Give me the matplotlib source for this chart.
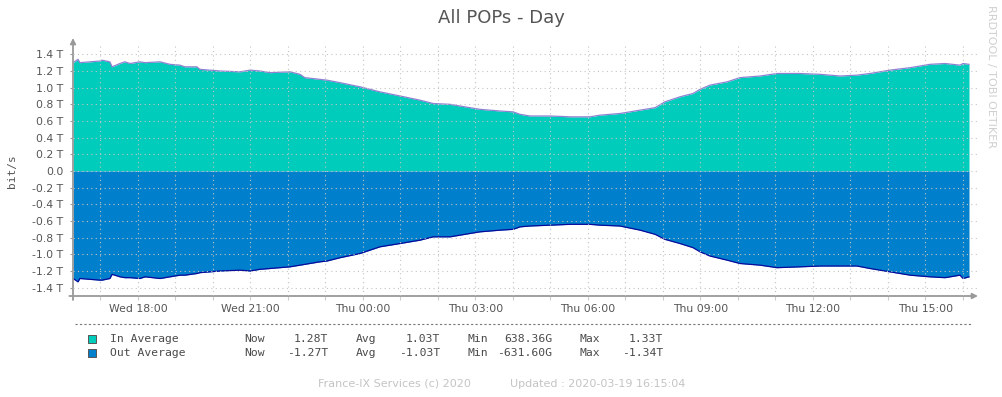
import matplotlib
matplotlib.use("Agg")
import matplotlib.pyplot as plt
from matplotlib.lines import Line2D
from matplotlib.patches import Rectangle

W, H = 1003, 397

# time in hours since Wed 00:00
hours = [16.27, 16.40, 16.45, 16.72, 16.99, 17.04, 17.25, 17.31, 17.52, 17.65,
         17.79, 18.05, 18.19, 18.59, 18.85, 19.12, 19.25, 19.57, 19.65, 19.92,
         20.19, 20.72, 20.99, 21.25, 21.52, 22.05, 22.32, 22.45, 22.85, 23.04,
         23.39, 23.92, 24.45, 24.99, 25.52, 25.87, 26.32, 26.85, 27.12, 27.65,
         28.00, 28.19, 28.45, 28.99, 29.52, 30.05, 30.32, 30.85, 31.39, 31.79,
         32.05, 32.45, 32.80, 32.99, 33.25, 33.71, 34.05, 34.59, 35.04, 35.65,
         36.19, 36.72, 37.17, 37.52, 38.05, 38.59, 39.12, 39.52, 39.92, 40.00,
         40.16]

# bit/s in T
in_avg = [1.30, 1.34, 1.30, 1.31, 1.32, 1.33, 1.31, 1.25, 1.29, 1.31,
          1.29, 1.31, 1.30, 1.31, 1.28, 1.27, 1.25, 1.25, 1.22, 1.21,
          1.20, 1.19, 1.21, 1.20, 1.18, 1.19, 1.16, 1.12, 1.10, 1.09,
          1.06, 1.01, 0.95, 0.90, 0.85, 0.81, 0.80, 0.76, 0.74, 0.72,
          0.71, 0.68, 0.66, 0.66, 0.65, 0.65, 0.67, 0.69, 0.73, 0.76,
          0.83, 0.89, 0.93, 0.98, 1.03, 1.07, 1.12, 1.14, 1.17, 1.17,
          1.16, 1.14, 1.15, 1.17, 1.21, 1.24, 1.28, 1.29, 1.27, 1.29,
          1.28]

out_avg = [-1.29, -1.33, -1.29, -1.30, -1.31, -1.31, -1.29, -1.24, -1.27, -1.28,
           -1.28, -1.29, -1.27, -1.29, -1.27, -1.25, -1.25, -1.23, -1.22, -1.21,
           -1.20, -1.19, -1.20, -1.18, -1.17, -1.15, -1.13, -1.12, -1.09, -1.08,
           -1.04, -0.99, -0.91, -0.87, -0.83, -0.79, -0.79, -0.75, -0.73, -0.71,
           -0.70, -0.67, -0.66, -0.65, -0.64, -0.64, -0.65, -0.66, -0.71, -0.76,
           -0.82, -0.87, -0.92, -0.97, -1.02, -1.07, -1.11, -1.13, -1.16, -1.15,
           -1.14, -1.14, -1.14, -1.17, -1.21, -1.25, -1.27, -1.28, -1.25, -1.29,
           -1.27]

yticks = [-1.4, -1.2, -1.0, -0.8, -0.6, -0.4, -0.2, 0.0, 0.2, 0.4, 0.6, 0.8, 1.0, 1.2, 1.4]
xticks = [18, 21, 24, 27, 30, 33, 36, 39]
xlabels = ["Wed 18:00", "Wed 21:00", "Thu 00:00", "Thu 03:00",
           "Thu 06:00", "Thu 09:00", "Thu 12:00", "Thu 15:00"]

legend_rows = [
    ("In Average", "#00CCBB", ["1.28T", "1.03T", "638.36G", "1.33T"]),
    ("Out Average", "#0080CC", ["-1.27T", "-1.03T", "-631.60G", "-1.34T"]),
]


def fx(x):
    return x / W


def fy(y):
    return 1 - y / H


fig = plt.figure(figsize=(W / 100, H / 100), dpi=100)
ax = fig.add_axes([fx(73), fy(296), fx(978) - fx(73), (296 - 46) / H])

ax.fill_between(hours, 0, in_avg, color="#00CCBB", lw=0, zorder=2)
ax.plot(hours, in_avg, color="#8f82d2", lw=0.9, zorder=3)
ax.fill_between(hours, 0, out_avg, color="#0080CC", lw=0, zorder=2)
ax.plot(hours, out_avg, color="#0a0a9a", lw=0.9, zorder=3)

ax.set_xlim(16.267, 40.4)
ax.set_ylim(-1.5, 1.5)

ax.set_yticks(yticks)
ax.set_yticklabels(["0.0" if v == 0 else "%.1f T" % v for v in yticks])
ax.set_xticks(xticks)
ax.set_xticklabels(xlabels)
ax.set_xticks(range(17, 41), minor=True)

ax.tick_params(axis="y", length=2, width=0.8, color="#999999", pad=5,
               labelsize=7.8, labelcolor="#555555")
ax.tick_params(axis="x", which="both", length=3, width=0.8, color="#cccccc",
               pad=3, labelsize=7.8, labelcolor="#555555")

for v in yticks:
    ax.axhline(v, color="#c4c4c4", lw=0.8, ls=(0, (1, 3)), zorder=4)
for h in range(17, 41):
    ax.axvline(h, color="#c4c4c4", lw=0.8, ls=(0, (1, 3)), zorder=4)

for s in ax.spines.values():
    s.set_visible(False)

# axes with arrow heads
ax.annotate("", xy=(1.0, 0), xytext=(-0.004, 0), xycoords="axes fraction",
            arrowprops=dict(arrowstyle="-|>", color="#999999", lw=1.3,
                            mutation_scale=8, shrinkA=0, shrinkB=0))
ax.annotate("", xy=(0, 1.032), xytext=(0, -0.016), xycoords="axes fraction",
            arrowprops=dict(arrowstyle="-|>", color="#999999", lw=1.3,
                            mutation_scale=8, shrinkA=0, shrinkB=0))

fig.text(0.5, fy(18), "All POPs - Day", ha="center", va="center",
         fontsize=13, color="#555555")
fig.text(fx(12), fy(171), "bit/s", rotation=90, ha="center", va="center",
         family="DejaVu Sans Mono", fontsize=8, color="#555555")
fig.text(fx(991), fy(5), "RRDTOOL / TOBI OETIKER", rotation=270,
         ha="center", va="top", fontsize=8, color="#cfcfcf")

# legend
fig.add_artist(Line2D([fx(75), fx(972)], [fy(324), fy(324)], color="#777777",
                      lw=0.8, ls=(0, (2, 2)), transform=fig.transFigure))
labels_x = [244, 356, 468, 580]
values_x = [328, 440, 552, 663]
names = ["Now", "Avg", "Min", "Max"]
for i, (label, col, vals) in enumerate(legend_rows):
    y = 339 + 14 * i
    fig.add_artist(Rectangle((fx(88), fy(y + 4)), 8 / W, 8 / H, facecolor=col,
                             edgecolor="#555555", lw=0.7, transform=fig.transFigure))
    fig.text(fx(110), fy(y), label, ha="left", va="center",
             family="DejaVu Sans Mono", fontsize=8.2, color="#4a4a4a")
    for n, lx, vx, v in zip(names, labels_x, values_x, vals):
        fig.text(fx(lx), fy(y), n, ha="left", va="center",
                 family="DejaVu Sans Mono", fontsize=8.2, color="#4a4a4a")
        fig.text(fx(vx), fy(y), v, ha="right", va="center",
                 family="DejaVu Sans Mono", fontsize=8.2, color="#4a4a4a")

fig.text(fx(318), fy(384), "France-IX Services (c) 2020", ha="left", va="center",
         fontsize=8, color="#c4c4c4")
fig.text(fx(510), fy(384), "Updated : 2020-03-19 16:15:04", ha="left", va="center",
         fontsize=8, color="#c4c4c4")

fig.savefig("out.png", dpi=100)
